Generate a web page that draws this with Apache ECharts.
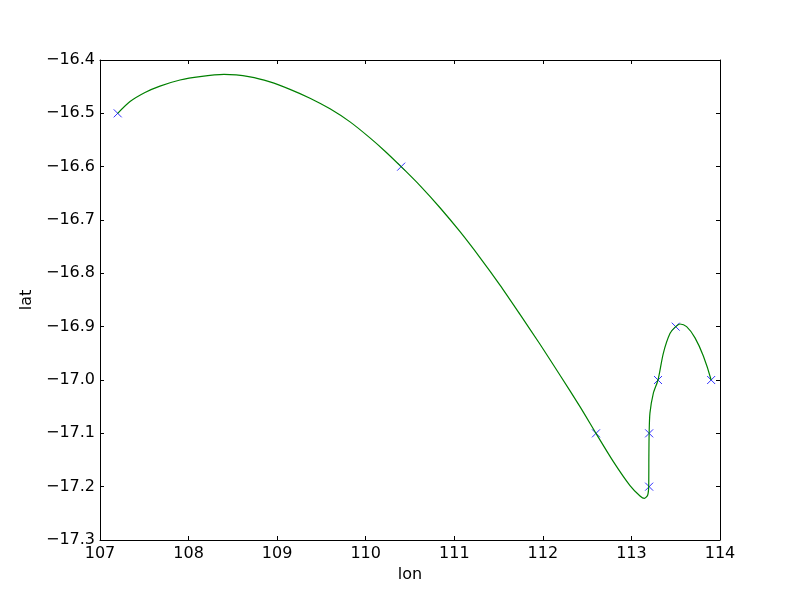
<!DOCTYPE html>
<html>
<head>
<meta charset="utf-8">
<script src="https://cdn.jsdelivr.net/npm/echarts@6/dist/echarts.min.js"></script>
<style>html,body{margin:0;padding:0;background:#fff}#c{width:800px;height:600px}</style>
</head>
<body>
<div id="c"></div>
<script>
// observed points (x markers)
var pointLon = [107.2, 110.4, 112.6, 113.2, 113.2, 113.3, 113.5, 113.9];
var pointLat = [-16.5, -16.6, -17.1, -17.2, -17.1, -17.0, -16.9, -17.0];
// fitted curve
var curveLon = [107.2, 107.339, 107.508, 107.677, 107.903, 108.129, 108.4, 108.694, 108.919, 109.145, 109.371, 109.597, 109.823, 110.048, 110.218, 110.4, 110.613, 110.839, 111.065, 111.29, 111.516, 111.742, 111.968, 112.194, 112.419, 112.6, 112.796, 112.984, 113.097, 113.146, 113.183, 113.195, 113.197, 113.2, 113.209, 113.247, 113.3, 113.36, 113.435, 113.5, 113.548, 113.623, 113.718, 113.812, 113.9];
var curveLat = [-16.5, -16.478, -16.461, -16.449, -16.4375, -16.431, -16.427, -16.4315, -16.441, -16.455, -16.4716, -16.4915, -16.516, -16.546, -16.571, -16.6, -16.6355, -16.677, -16.722, -16.7705, -16.822, -16.877, -16.933, -16.991, -17.05, -17.1, -17.153, -17.198, -17.2175, -17.222, -17.216, -17.199, -17.144, -17.1, -17.062, -17.025, -17.0, -16.95, -16.913, -16.9, -16.895, -16.9, -16.921, -16.955, -17.0];
var xTicks = [107, 108, 109, 110, 111, 112, 113, 114];
var yTicks = [-17.3, -17.2, -17.1, -17.0, -16.9, -16.8, -16.7, -16.6, -16.5, -16.4];

var font = 'DejaVu Sans';
var pts = pointLon.map(function (x, i) { return [x, pointLat[i]]; });
var curve = curveLon.map(function (x, i) { return [x, curveLat[i]]; });

var chart = echarts.init(document.getElementById('c'), null, {renderer: 'canvas'});
var axisLine = {show: true, lineStyle: {color: '#000', width: 1}};
var tick = {show: true, inside: true, length: 4, lineStyle: {color: '#000'}};
chart.setOption({
  animation: false,
  backgroundColor: '#fff',
  grid: {left: 100, right: 80, top: 60, bottom: 60, containLabel: false},
  xAxis: [{
    type: 'value', min: xTicks[0], max: xTicks[xTicks.length - 1], interval: 1,
    name: 'lon', nameLocation: 'middle', nameGap: 25,
    nameTextStyle: {fontFamily: font, fontSize: 16, color: '#000'},
    axisLine: axisLine, axisTick: tick, splitLine: {show: false},
    axisLabel: {fontFamily: font, fontSize: 16, color: '#000', margin: 6,
      formatter: function (v) { return String(v); }}
  }, {
    type: 'value', position: 'top', min: xTicks[0], max: xTicks[xTicks.length - 1], interval: 1,
    axisLine: axisLine, axisTick: tick, axisLabel: {show: false}, splitLine: {show: false}
  }],
  yAxis: [{
    type: 'value', min: yTicks[0], max: yTicks[yTicks.length - 1], interval: 0.1,
    name: 'lat', nameLocation: 'middle', nameGap: 58,
    nameTextStyle: {fontFamily: font, fontSize: 16, color: '#000'},
    axisLine: axisLine, axisTick: tick, splitLine: {show: false},
    axisLabel: {fontFamily: font, fontSize: 16, color: '#000', margin: 5,
      formatter: function (v) { return v.toFixed(1).replace('-', '\u2212'); }}
  }, {
    type: 'value', position: 'right', min: yTicks[0], max: yTicks[yTicks.length - 1], interval: 0.1,
    axisLine: axisLine, axisTick: tick, axisLabel: {show: false}, splitLine: {show: false}
  }],
  series: [{
    type: 'scatter', data: pts, symbol: 'path://M0,0L10,10M10,0L0,10', symbolSize: 8,
    itemStyle: {color: 'none', borderColor: '#0000ff', borderWidth: 1}, z: 2
  }, {
    type: 'line', data: curve, smooth: 0.25, showSymbol: false, symbol: 'none',
    lineStyle: {color: '#008000', width: 1.2}, z: 3
  }]
});
</script>
</body>
</html>
